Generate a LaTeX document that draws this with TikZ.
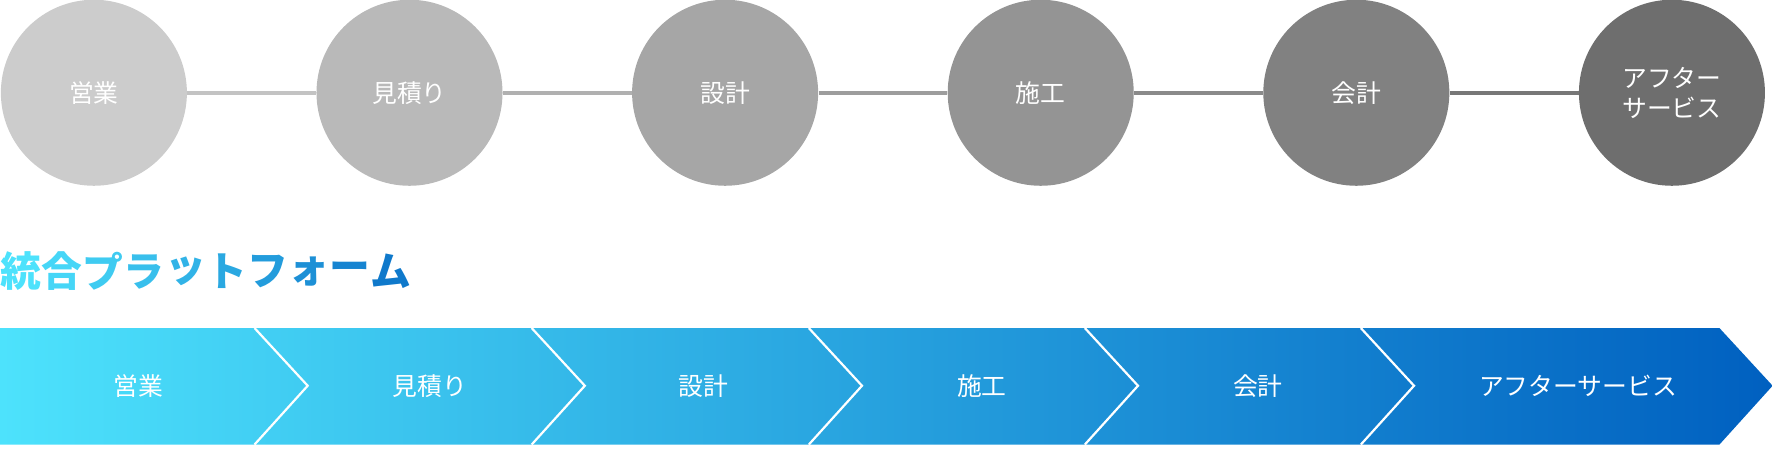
\documentclass[tikz,border=0pt]{standalone}
\usepackage{fontspec}
\newfontfamily\jpfont{Noto Sans CJK JP}
\usetikzlibrary{positioning}
\definecolor{gLight}{HTML}{CCCCCC}
\definecolor{gDark}{HTML}{6E6E6E}
\definecolor{bLight}{HTML}{4DE2FC}
\definecolor{bDark}{HTML}{0060C0}
\tikzset{
  stage/.style={circle,minimum size=93pt,inner sep=0pt,text=white,align=center,font=\jpfont\fontsize{12.4}{15}\selectfont},
  link/.style={line width=2.2pt},
  barlabel/.style={text=white,font=\jpfont\fontsize{12.4}{15}\selectfont},
  notch/.style={draw=white,line width=1.1pt}
}
\begin{document}
\begin{tikzpicture}[x=0.5655pt,y=-0.5655pt]
\useasboundingbox (0,0) rectangle (1570,404);

% circles
\foreach \name [count=\i] in {営業,見積り,設計,施工,会計,{アフター\\サービス}} {
  \pgfmathsetmacro{\pc}{100-(\i-1)*20}
  \node[stage,fill=gLight!\pc!gDark] (c\i) at ({83+(\i-1)*279},82) {\name};
}
\foreach \i [evaluate=\i as \j using int(\i+1)] in {1,...,5} {
  \pgfmathsetmacro{\pc}{90-(\i-1)*20}
  \draw[link,gLight!\pc!gDark] (c\i) -- (c\j);
}

% title
\foreach \ch [count=\i] in {統,合,プ,ラ,ッ,ト,フ,ォ,ー,ム} {
  \pgfmathsetmacro{\pc}{100-(\i-1)*9}
  \node[inner sep=0pt,anchor=west,text=bLight!\pc!bDark,font=\jpfont\bfseries\fontsize{20.4}{22}\selectfont] (t\i) at ({(\i-1)*36.4},240) {\ch};
}

% band
\shade[left color=bLight,right color=bDark] (0,290) -- (1520,290) -- (1567,341) -- (1520,393) -- (0,393) -- cycle;
\foreach \tip in {272,517,762,1006,1250} {
  \draw[notch] ({\tip-47},290) -- (\tip,341) -- ({\tip-47},393);
}
\foreach \name/\x [count=\i] in {営業/122,見積り/380,設計/622,施工/868,会計/1112,アフターサービス/1395} {
  \node[barlabel] (b\i) at (\x,341) {\name};
}
\end{tikzpicture}
\end{document}
